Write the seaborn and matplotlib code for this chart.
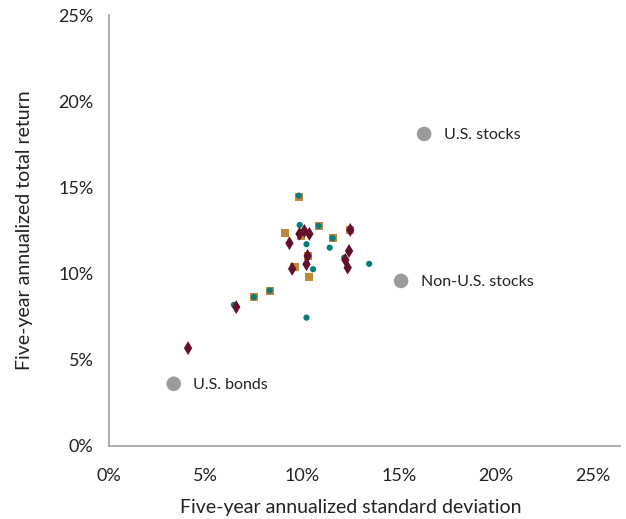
import pandas as pd
import seaborn as sns
import matplotlib.pyplot as plt
from matplotlib.ticker import FuncFormatter

# benchmarks (std dev %, return %)
bench_names = ["U.S. stocks", "Non-U.S. stocks", "U.S. bonds"]
bench_sd = [16.29, 15.10, 3.35]
bench_ret = [18.10, 9.57, 3.60]

# orange squares
sq_sd = [9.81, 9.09, 9.95, 10.84, 12.47, 11.56, 10.27, 9.59, 10.32, 8.31, 7.49]
sq_ret = [14.43, 12.34, 12.18, 12.76, 12.53, 12.05, 11.02, 10.40, 9.79, 9.01, 8.63]

# teal circles
ci_sd = [9.81, 9.86, 10.84, 11.56, 10.21, 11.41, 12.16, 13.45, 10.55, 8.31, 7.49, 6.46, 10.21, 10.00]
ci_ret = [14.52, 12.82, 12.76, 12.05, 11.70, 11.50, 10.92, 10.56, 10.25, 9.01, 8.63, 8.18, 7.44, 12.41]

# maroon diamonds
di_sd = [9.85, 10.10, 10.36, 12.47, 9.33, 10.27, 12.41, 10.21, 12.22, 12.34, 9.47, 6.58, 4.09]
di_ret = [12.30, 12.47, 12.30, 12.53, 11.76, 11.02, 11.31, 10.54, 10.79, 10.34, 10.27, 8.05, 5.67]

GRAY = "#9b9b9b"
ORANGE = "#c0873a"
TEAL = "#0a7b7b"
MAROON = "#650f2f"
TXT = "#222222"

sns.set_style("white")
plt.rcParams["font.family"] = ["Lato", "DejaVu Sans"]

fig = plt.figure(figsize=(6.26, 5.19), dpi=100)
ax = fig.add_axes([0.174, 0.141, 0.816, 0.830])

bench = pd.DataFrame({"sd": bench_sd, "ret": bench_ret, "name": bench_names})
sns.scatterplot(data=bench, x="sd", y="ret", color=GRAY, s=110, edgecolor="none", ax=ax)
sns.scatterplot(x=sq_sd, y=sq_ret, color=ORANGE, marker="s", s=34, edgecolor="none", ax=ax)
sns.scatterplot(x=ci_sd, y=ci_ret, color=TEAL, marker="o", s=20, edgecolor="none", ax=ax)
sns.scatterplot(x=di_sd, y=di_ret, color=MAROON, marker="d", s=50, edgecolor="none", ax=ax)

for _, r in bench.iterrows():
    ax.annotate(r["name"], (r["sd"], r["ret"]), xytext=(14, -1), textcoords="offset points",
                ha="left", va="center", fontsize=11.5, color=TXT)

ax.set_xlim(0, 26.4)
ax.set_ylim(0, 25)
ax.set_xticks([0, 5, 10, 15, 20, 25])
ax.set_yticks([0, 5, 10, 15, 20, 25])
pct = FuncFormatter(lambda v, _: f"{v:.0f}%")
ax.xaxis.set_major_formatter(pct)
ax.yaxis.set_major_formatter(pct)
ax.tick_params(axis="both", length=0, labelsize=13, colors=TXT)
ax.tick_params(axis="x", pad=16)
ax.tick_params(axis="y", pad=11)

sns.despine(ax=ax)
for side in ["left", "bottom"]:
    ax.spines[side].set_color("#a0a0a0")
    ax.spines[side].set_linewidth(1.2)

ax.set_xlabel("Five-year annualized standard deviation", fontsize=14, color=TXT, labelpad=11)
ax.xaxis.label.set_x(12.5 / 26.4)  # centred under the 0-25% tick range
ax.set_ylabel("Five-year annualized total return", fontsize=14, color=TXT, labelpad=18)

fig.savefig("out.png", dpi=100)
